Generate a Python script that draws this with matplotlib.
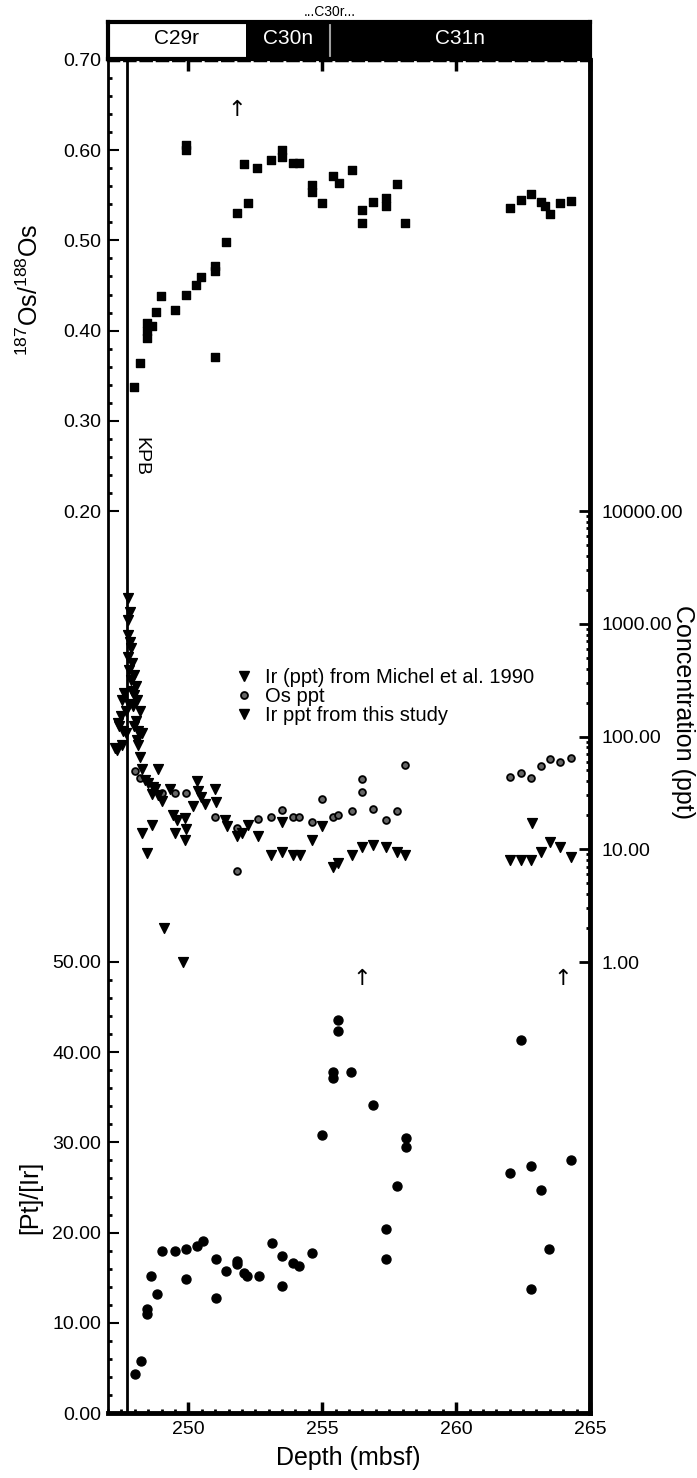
import matplotlib
matplotlib.use('Agg')
import matplotlib.pyplot as plt
from matplotlib.patches import Rectangle
from matplotlib.lines import Line2D
from matplotlib.ticker import FixedLocator, FormatStrFormatter, NullFormatter
import numpy as np

plt.rcParams['font.family'] = ['Liberation Sans', 'DejaVu Sans']
plt.rcParams['mathtext.fontset'] = 'custom'
plt.rcParams['mathtext.rm'] = 'Liberation Sans'
plt.rcParams['mathtext.default'] = 'regular'

# 187Os/188Os
os_depth = [247.97, 248.19, 248.44, 248.44, 248.44, 248.63, 248.79, 248.98, 249.50, 249.91,
            249.91, 249.91, 250.28, 250.49, 250.99, 250.99, 250.99, 251.39, 251.80, 252.07,
            252.23, 252.57, 253.08, 253.50, 253.50, 253.92, 254.12, 254.60, 254.60, 255.01,
            255.41, 255.63, 256.12, 256.50, 256.50, 256.90, 257.37, 257.37, 257.81, 258.08,
            262.00, 262.41, 262.81, 263.18, 263.31, 263.49, 263.87, 264.30]
os_ratio = [0.338, 0.364, 0.408, 0.400, 0.392, 0.405, 0.421, 0.438, 0.423, 0.439,
            0.606, 0.600, 0.451, 0.459, 0.472, 0.466, 0.371, 0.498, 0.530, 0.585,
            0.542, 0.580, 0.589, 0.600, 0.593, 0.586, 0.586, 0.561, 0.554, 0.541,
            0.571, 0.564, 0.578, 0.534, 0.519, 0.543, 0.547, 0.538, 0.563, 0.519,
            0.536, 0.545, 0.551, 0.543, 0.538, 0.529, 0.541, 0.544]

# Ir (ppt) from Michel et al. 1990
mi_depth = [247.73, 247.82, 247.76, 247.73, 247.82, 247.86, 247.76, 247.88, 247.78, 247.98,
            247.86, 248.03, 247.91, 247.61, 247.51, 247.98, 248.07, 247.95, 248.19, 247.48,
            247.36, 247.41, 247.57, 248.03, 247.98, 248.13, 248.26, 248.07, 248.13, 247.32,
            247.26, 247.51, 247.69, 247.78, 247.66]
mi_ir = [1680, 1280, 1080, 800, 695, 607, 512, 447, 390, 352,
         318, 278, 251, 242, 212, 234, 212, 185, 167, 151,
         131, 123, 111, 136, 123, 111, 107, 93, 84, 76,
         79, 84, 107, 195, 167]

# Ir ppt from this study
ir_depth = [248.19, 248.26, 248.88, 248.38, 248.50, 248.69, 248.75, 248.63, 248.88, 249.00,
            249.31, 249.44, 249.56, 249.50, 249.87, 249.93, 249.87, 250.18, 250.31, 250.37,
            250.49, 250.62, 250.99, 251.05, 251.37, 251.43, 251.80, 251.99, 252.24, 252.61,
            248.26, 248.63, 248.44, 249.10, 249.81, 253.10, 253.50, 253.50, 253.92, 254.17,
            254.60, 255.00, 255.41, 255.59, 256.12, 256.50, 256.90, 257.40, 257.81, 258.10,
            262.00, 262.41, 262.81, 262.85, 263.18, 263.49, 263.89, 264.30]
ir_ppt = [66, 52, 51, 41, 39, 36, 34, 31, 30, 27,
          34, 20, 18, 14, 19, 15, 12, 24, 40, 33,
          29, 25, 34, 26, 18, 16, 13, 14, 16.5, 13,
          14, 16.5, 9.2, 2.0, 1.0, 8.9, 9.5, 17.6, 8.9, 8.9,
          12.1, 16.1, 7.0, 7.5, 8.9, 10.5, 10.9, 10.5, 9.5, 8.9,
          8.0, 8.0, 8.0, 17, 9.5, 11.5, 10.5, 8.5]

# Os ppt
osc_depth = [248.01, 248.19, 249.00, 249.50, 249.93, 250.99, 251.80, 251.80, 252.61, 253.10,
             253.50, 253.92, 254.13, 254.60, 255.00, 255.41, 255.59, 256.12, 256.50, 256.50,
             256.90, 257.40, 257.81, 258.10, 262.00, 262.41, 262.81, 263.18, 263.49, 263.89,
             264.30]
osc_ppt = [49, 43, 31.5, 31.5, 31.5, 19.5, 15.4, 6.4, 18.5, 19.5,
           22.3, 19.5, 19.5, 17.6, 27.9, 19.5, 20.1, 21.8, 42, 32.4,
           22.8, 18.2, 21.8, 55.8, 44, 47.2, 42.9, 54.7, 62.7, 59.8,
           64.1]

# [Pt]/[Ir]
pt_depth = [248.01, 248.22, 248.44, 248.44, 248.60, 248.82, 249.00, 249.50, 249.91, 249.91,
            250.31, 250.53, 251.02, 251.02, 251.40, 251.80, 251.80, 252.07, 252.20, 252.63,
            253.11, 253.48, 253.48, 253.91, 254.13, 254.60, 255.01, 255.41, 255.41, 255.59,
            255.59, 256.09, 256.90, 257.40, 257.40, 257.81, 258.11, 258.11, 262.00, 262.41,
            262.78, 262.78, 263.18, 263.47, 264.30]
pt_ratio = [4.3, 5.8, 11.5, 11.0, 15.2, 13.2, 18.0, 18.0, 18.2, 14.9,
            18.5, 19.1, 17.1, 12.7, 15.7, 16.9, 16.5, 15.5, 15.2, 15.2,
            18.8, 17.4, 14.1, 16.6, 16.3, 17.7, 30.8, 37.8, 37.1, 43.6,
            42.4, 37.8, 34.1, 20.4, 17.1, 25.2, 30.5, 29.5, 26.6, 41.3,
            27.4, 13.8, 24.7, 18.2, 28.0]

# off-scale markers
arrow_os = (251.8, 0.645)
arrow_pt_depth = [256.47, 263.97]
arrow_pt_y = 48.1

kpb_depth = 247.70
chron_names = ['C29r', 'C30n', 'C31n']
chron_bounds = [247.0, 252.15, 255.28, 265.0]

W, H = 697, 1478


def px(x0, y0, x1, y1):
    return [x0 / W, 1 - y1 / H, (x1 - x0) / W, (y1 - y0) / H]


fig = plt.figure(figsize=(W / 100, H / 100), dpi=100)
rect = px(108, 60, 590, 1413)

ax_pt = fig.add_axes(rect)
ax_os = fig.add_axes(rect)
ax_c = fig.add_axes(rect)

for ax in (ax_pt, ax_os, ax_c):
    ax.set_xlim(247, 265)

# base axes: Pt/Ir and depth axis
ax_pt.set_ylim(0, 150)
ax_pt.spines['left'].set_linewidth(2)
ax_pt.spines['right'].set_linewidth(3.5)
ax_pt.spines['bottom'].set_linewidth(3.5)
ax_pt.spines['top'].set_linewidth(2.5)
ax_pt.spines['top'].set_linestyle((0, (2.9, 1.8)))
ax_pt.set_xticks([250, 255, 260, 265])
ax_pt.set_xticklabels(['250', '255', '260', '265'])
ax_pt.xaxis.set_minor_locator(FixedLocator(np.arange(247, 265.01, 0.5)))
ax_pt.tick_params(axis='x', which='major', direction='in', length=8, width=2.5,
                  top=True, labelsize=14, pad=6)
ax_pt.tick_params(axis='x', which='minor', direction='in', length=3, width=2)
ax_pt.set_yticks([0, 10, 20, 30, 40, 50])
ax_pt.yaxis.set_major_formatter(FormatStrFormatter('%.2f'))
ax_pt.yaxis.set_minor_locator(FixedLocator(np.arange(0, 50.1, 2)))
ax_pt.tick_params(axis='y', which='major', direction='in', length=8, width=1.5,
                  labelsize=14, pad=5)
ax_pt.tick_params(axis='y', which='minor', direction='in', length=3, width=2)
ax_pt.axvline(kpb_depth, color='black', lw=2, zorder=1)
ax_pt.scatter(pt_depth, pt_ratio, marker='o', s=42, color='black', zorder=3)
for d in arrow_pt_depth:
    ax_pt.text(d, arrow_pt_y, '\u2191', ha='center', va='center', fontsize=16,
               family='DejaVu Sans')

# Os isotope ratio overlay
ax_os.set_ylim(-0.8, 0.7)
ax_os.patch.set_visible(False)
for s in ax_os.spines.values():
    s.set_visible(False)
ax_os.xaxis.set_visible(False)
ax_os.set_yticks([0.2, 0.3, 0.4, 0.5, 0.6, 0.7])
ax_os.yaxis.set_major_formatter(FormatStrFormatter('%.2f'))
ax_os.yaxis.set_minor_locator(FixedLocator(np.arange(0.2, 0.701, 0.02)))
ax_os.tick_params(axis='y', which='major', direction='in', length=8, width=1.5,
                  labelsize=14, pad=5)
ax_os.tick_params(axis='y', which='minor', direction='in', length=3, width=2)
ax_os.scatter(os_depth, os_ratio, marker='s', s=40, color='black', zorder=3)
ax_os.text(arrow_os[0], arrow_os[1], '\u2191', ha='center', va='center', fontsize=16,
           family='DejaVu Sans')
ax_os.text(247.9, 0.26, 'KPB', rotation=270, ha='left', va='center', fontsize=14)

# concentration overlay (log)
ax_c.set_yscale('log')
ax_c.set_ylim(1e-4, 1e8)
ax_c.patch.set_visible(False)
for s in ax_c.spines.values():
    s.set_visible(False)
ax_c.xaxis.set_visible(False)
ax_c.yaxis.tick_right()
ax_c.yaxis.set_major_locator(FixedLocator([1, 10, 100, 1000, 10000]))
ax_c.yaxis.set_major_formatter(FormatStrFormatter('%.2f'))
minors = [m * 10 ** e for e in range(0, 4) for m in range(2, 10)]
ax_c.yaxis.set_minor_locator(FixedLocator(minors))
ax_c.yaxis.set_minor_formatter(NullFormatter())
ax_c.tick_params(axis='y', which='major', direction='in', length=8, width=2,
                 labelsize=14, pad=8)
ax_c.tick_params(axis='y', which='minor', direction='in', length=3, width=2)
ax_c.scatter(mi_depth, mi_ir, marker='v', s=50, color='black', zorder=3)
ax_c.scatter(osc_depth, osc_ppt, marker='o', s=24, facecolor='#666666',
             edgecolor='black', linewidth=1.3, zorder=3)
ax_c.scatter(ir_depth, ir_ppt, marker='v', s=50, color='black', zorder=3)

handles = [
    Line2D([], [], ls='none', marker='v', color='black', markersize=7),
    Line2D([], [], ls='none', marker='o', markerfacecolor='#666666',
           markeredgecolor='black', markeredgewidth=1.3, markersize=5),
    Line2D([], [], ls='none', marker='v', color='black', markersize=7),
]
labels = ['Ir (ppt) from Michel et al. 1990', 'Os ppt', 'Ir ppt from this study']
ax_c.legend(handles, labels, loc='upper left', bbox_to_anchor=(234 / W, 1 - 668 / H),
            bbox_transform=fig.transFigure, frameon=False, fontsize=14.5,
            borderpad=0, borderaxespad=0, handlelength=1, handletextpad=0.55,
            labelspacing=0.0)

# magnetochron band
ax_h = fig.add_axes(px(108, 22, 590, 59))
ax_h.set_xlim(247, 265)
ax_h.set_ylim(0, 1)
ax_h.set_facecolor('black')
ax_h.set_xticks([])
ax_h.set_yticks([])
for s in ax_h.spines.values():
    s.set_linewidth(3)
ax_h.add_patch(Rectangle((chron_bounds[0], 0), chron_bounds[1] - chron_bounds[0], 1,
                         facecolor='white', edgecolor='none'))
ax_h.axvline(chron_bounds[2], ymin=0.08, ymax=0.92, color='#a0a0a0', lw=1.5)
for i, name in enumerate(chron_names):
    mid = (chron_bounds[i] + chron_bounds[i + 1]) / 2
    ax_h.text(mid, 0.55, name, ha='center', va='center', fontsize=15,
              color='black' if i == 0 else 'white')
ax_h.text(chron_bounds[2], 1.28, '...C30r...', ha='center', va='center', fontsize=10,
          clip_on=False)

# axis titles
fig.text(30 / W, 1 - 290 / H, r'$^{187}$Os/$^{188}$Os', rotation=90,
         ha='center', va='center', fontsize=18)
fig.text(30 / W, 1 - 1197 / H, '[Pt]/[Ir]', rotation=90, ha='center', va='center',
         fontsize=18)
fig.text(683 / W, 1 - 712 / H, 'Concentration (ppt)', rotation=270, ha='center',
         va='center', fontsize=18)
fig.text(348 / W, 1 - 1458 / H, 'Depth (mbsf)', ha='center', va='center', fontsize=18)

fig.savefig('out.png', dpi=100)
